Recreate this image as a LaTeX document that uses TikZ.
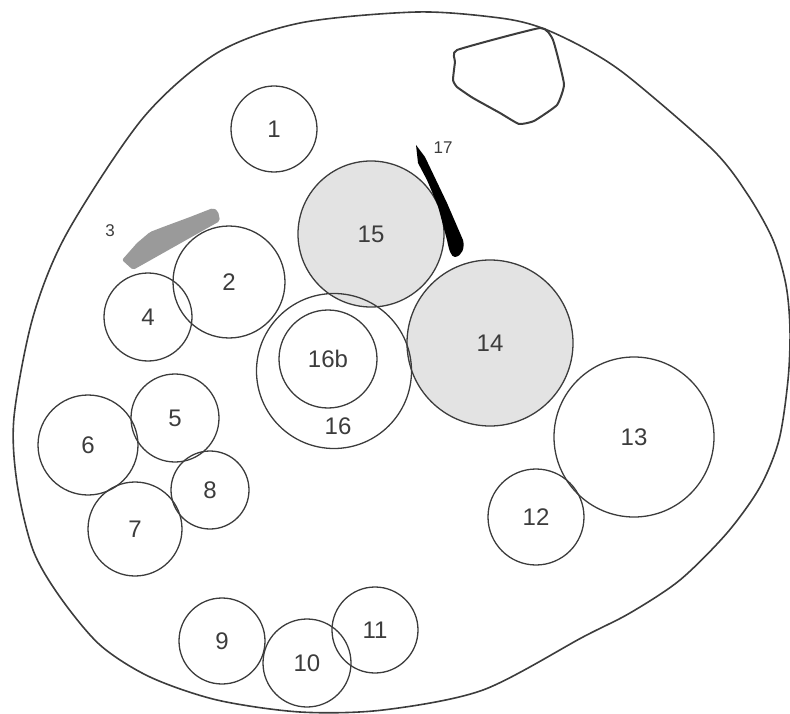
\documentclass[tikz,border=0pt]{standalone}
\usepackage{fontspec}
\setmainfont{Liberation Sans}
\usetikzlibrary{positioning}
\definecolor{csink}{HTML}{3C3C3C}
\definecolor{csshade}{HTML}{E3E3E3}
\definecolor{csgrain}{HTML}{9A9A9A}
\tikzset{
  cs section/.style={
    x=1pt,
    y=-1pt,
    line cap=round,
    line join=round
  },
  cs cell/.style={
    circle,
    draw=csink,
    line width=1.3pt,
    inner sep=0pt,
    text=csink,
    font=\fontsize{24}{26}\selectfont
  },
  cs shaded/.style={
    cs cell,
    fill=csshade
  },
  cs label/.style={
    text=csink,
    inner sep=1pt,
    font=\fontsize{24}{26}\selectfont
  },
  cs small label/.style={
    text=csink,
    inner sep=1pt,
    font=\fontsize{17}{19}\selectfont
  }
}

\begin{document}
\begin{tikzpicture}[cs section]
  \useasboundingbox (0,0) rectangle (790,714);
  % outline of the section
  \draw[csink, line width=1.6pt] plot[smooth cycle] coordinates {
    (417,12) (500,18) (542,28) (588,50) (630,78) (713,150) (748,195)
    (773,240) (786,285) (790,330) (788,380) (779,440) (760,487) (727,533)
    (680,580) (630,613) (583,637) (483,690) (383,710) (300,712) (217,700)
    (150,677) (100,645) (60,597) (33,550) (17,483) (14,417) (33,317)
    (67,233) (143,118) (217,53) (300,23)};
  % notch at the top
  \draw[csink, line width=2pt] plot[smooth cycle, tension=0.25] coordinates {
    (540,28) (553,40) (564,84) (557,105) (534,121) (519,124) (500,113)
    (473,98) (457,87) (453,80) (455,62) (457,50)};
  % grey strip
  \fill[csgrain, rounded corners=2pt] (122,260) -- (133,270) -- (220,221)
    -- (218,211) -- (213,208) -- (190,217) -- (163,227) -- (150,232)
    -- (137,243) -- cycle;
  \node[cs small label] (l3) at (110,231) {3};

  \node[cs cell, minimum size=86pt] (c1) at (274,129) {1};
  \node[cs cell, minimum size=112pt] (c2) at (229,282) {2};
  \node[cs cell, minimum size=88pt] (c4) at (148,317) {4};
  \node[cs cell, minimum size=88pt] (c5) at (175,418) {5};
  \node[cs cell, minimum size=100pt] (c6) at (88,445) {6};
  \node[cs cell, minimum size=94pt] (c7) at (135,529) {7};
  \node[cs cell, minimum size=78pt] (c8) at (210,490) {8};
  \node[cs cell, minimum size=86pt] (c9) at (222,641) {9};
  \node[cs cell, minimum size=88pt] (c10) at (307,663) {10};
  \node[cs cell, minimum size=86pt] (c11) at (375,630) {11};
  \node[cs cell, minimum size=96pt] (c12) at (536,517) {12};
  \node[cs cell, minimum size=160pt] (c13) at (634,437) {13};
  \node[cs shaded, minimum size=166pt] (c14) at (490,343) {14};
  \node[cs shaded, minimum size=146pt] (c15) at (371,234) {15};

  \node[cs cell, minimum size=155pt] (c16) at (334,371) {};
  \node[cs cell, minimum size=98pt] (c16b) at (328,359) {16b};
  \node[cs label] (l16) at (338,426) {16};

  % dark wedge on cell 15
  \fill[black] (416,145) -- (425,157) -- (447,203) -- (463,240)
    .. controls (465,248) and (462,256) .. (455,257)
    .. controls (451,257) and (449,250) .. (447,240)
    -- (438,206) -- (427,180) -- (418,163) -- cycle;
  \node[cs small label] (l17) at (443,148) {17};
\end{tikzpicture}
\end{document}
